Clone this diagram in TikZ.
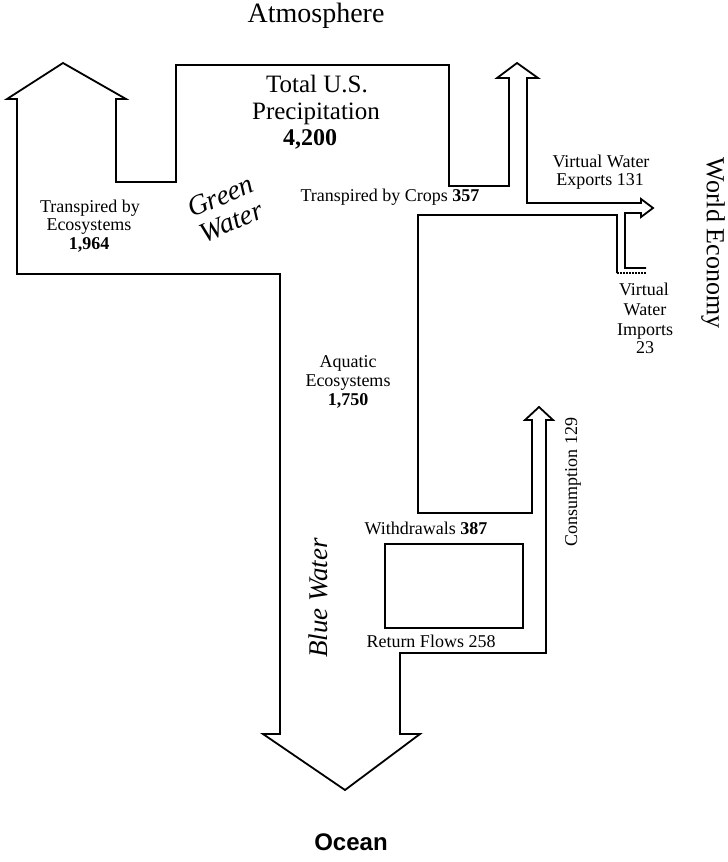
\documentclass[tikz,border=0pt]{standalone}
\usepackage{fontspec}
\setmainfont{Liberation Serif}
\newfontfamily\oceanfont{Liberation Sans}
\begin{document}
\begin{tikzpicture}[x=1pt,y=-1pt,
  flow/.style={line width=1.8pt, line join=miter, line cap=butt},
  lbl/.style={inner sep=0pt, anchor=base, font=\fontsize{18}{20}\selectfont},
  big/.style={inner sep=0pt, anchor=base, font=\fontsize{25}{28}\selectfont},
  slant/.style={inner sep=0pt, font=\fontsize{28}{28}\selectfont\itshape}]
\useasboundingbox (0,0) rectangle (728,862);

% water budget outline: green water up to the atmosphere, blue water down to the ocean
\draw[flow] (617,273) -- (617,215) -- (418,215) -- (418,513) -- (532,513)
  -- (532,420) -- (525,420) -- (539,407) -- (553,420) -- (546,420)
  -- (546,653) -- (400,653) -- (400,734) -- (420,734) -- (345,790)
  -- (263,734) -- (280,734) -- (280,274) -- (17,274) -- (17,99)
  -- (7,99) -- (63,63) -- (126,99) -- (116,99) -- (116,182) -- (176,182)
  -- (176,65) -- (449,65) -- (449,186) -- (509,186) -- (509,78)
  -- (497,78) -- (517,63) -- (538,78) -- (527,78) -- (527,203)
  -- (641,203) -- (641,199) -- (653,208) -- (641,217) -- (641,213)
  -- (625,213) -- (625,268) -- (646,268);
\draw[line width=1.2pt, dash pattern=on 2pt off 1pt] (617,273) -- (646,273);

% withdrawals / return flows loop
\draw[flow] (385,544) rectangle (523,628);

% labels
\node[inner sep=0pt, anchor=base, font=\fontsize{28}{30}\selectfont] (atm) at (316,23) {Atmosphere};
\node[big] (tot1) at (317,92) {Total U.S.};
\node[big] (tot2) at (316,119) {Precipitation};
\node[big, font=\fontsize{24}{28}\selectfont\bfseries] (tot3) at (310,145) {4,200};

\node[lbl] (te1) at (90,212) {Transpired by};
\node[lbl] (te2) at (89,230) {Ecosystems};
\node[lbl, font=\fontsize{18}{20}\selectfont\bfseries] (te3) at (89,249) {1,964};

\node[slant, align=center, rotate=23] (gw) at (226,209) {Green\\Water};

\node[lbl] (crops) at (390,201) {Transpired by Crops \textbf{357}};

\node[lbl] (ex1) at (601,167) {Virtual Water};
\node[lbl] (ex2) at (600,185) {Exports 131};

\node[inner sep=0pt, rotate=-90, font=\fontsize{26}{28}\selectfont] (world) at (713,243) {World Economy};

\node[lbl] (im1) at (644,295) {Virtual};
\node[lbl] (im2) at (645,315) {Water};
\node[lbl] (im3) at (645,335) {Imports};
\node[lbl] (im4) at (645,353) {23};

\node[lbl] (aq1) at (348,367) {Aquatic};
\node[lbl] (aq2) at (348,386) {Ecosystems};
\node[lbl, font=\fontsize{18}{20}\selectfont\bfseries] (aq3) at (348,405) {1,750};

\node[inner sep=0pt, rotate=90, font=\fontsize{18}{20}\selectfont] (cons) at (573,482) {Consumption 129};

\node[lbl] (wd) at (426,534) {Withdrawals \textbf{387}};
\node[lbl] (rf) at (431,647) {Return Flows 258};

\node[slant, rotate=90, font=\fontsize{27}{30}\selectfont\itshape] (bw) at (318,598) {Blue Water};

\node[inner sep=0pt, anchor=base, font=\oceanfont\fontsize{24}{26}\selectfont\bfseries] (ocean) at (351,850) {Ocean};
\end{tikzpicture}
\end{document}
